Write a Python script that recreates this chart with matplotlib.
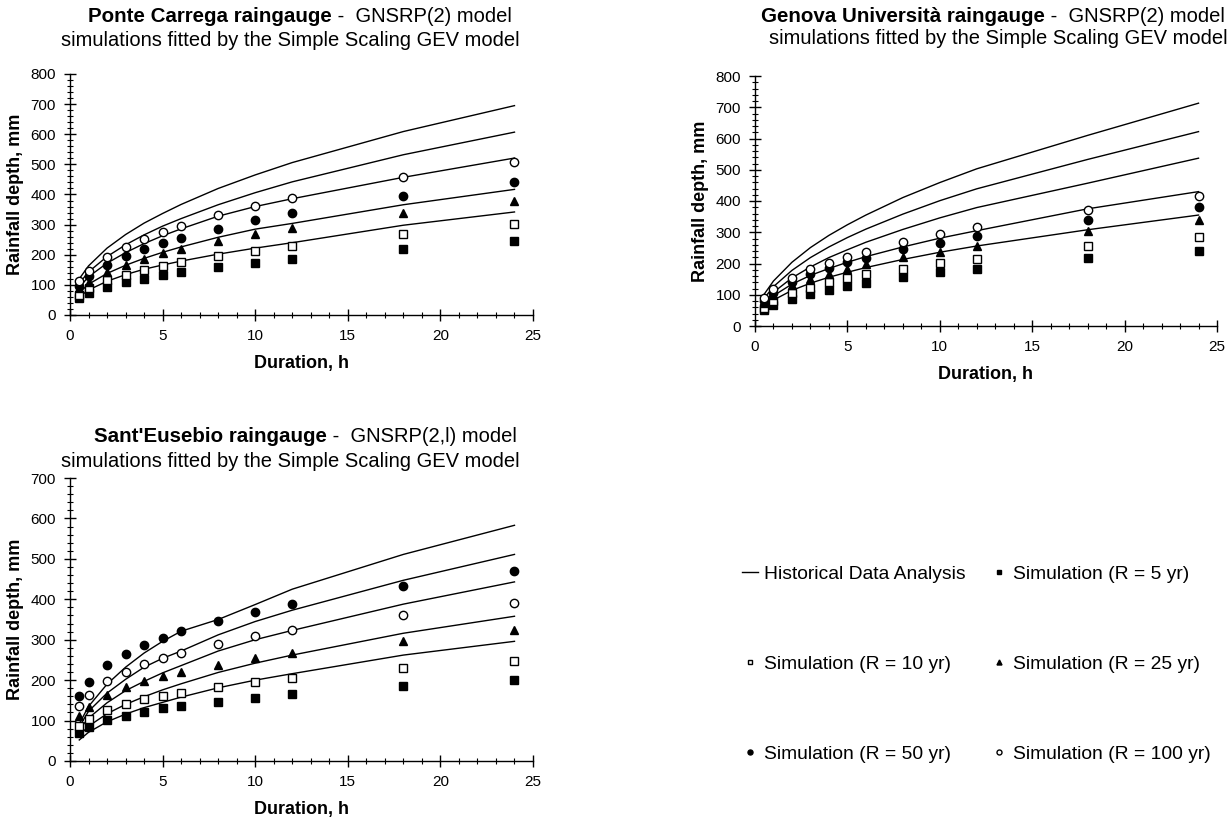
import numpy as np
import matplotlib
matplotlib.use('Agg')
import matplotlib.pyplot as plt
from matplotlib.ticker import MultipleLocator
from matplotlib.lines import Line2D

plt.rcParams['font.family'] = ['Liberation Sans', 'DejaVu Sans']

# durations (h)
durations = [0.5, 1, 2, 3, 4, 5, 6, 8, 10, 12, 18, 24]

# --- Ponte Carrega ---
pc_hist = [
    [120, 163, 222, 267, 305, 337, 367, 420, 465, 506, 609, 695],
    [105, 143, 194, 233, 266, 295, 320, 366, 406, 442, 532, 607],
    [92, 127, 172, 207, 237, 263, 286, 328, 360, 386, 457, 521],
    [74, 102, 138, 165, 188, 208, 226, 258, 285, 304, 366, 417],
    [60, 83, 112, 134, 152, 166, 179, 202, 222, 240, 298, 342],
]
pc_r5 = [55, 72, 92, 108, 121, 132, 142, 158, 174, 186, 219, 244]
pc_r10 = [65, 88, 116, 133, 150, 163, 176, 196, 213, 230, 268, 301]
pc_r25 = [88, 110, 142, 167, 187, 205, 220, 245, 270, 288, 339, 378]
pc_r50 = [96, 128, 167, 196, 219, 239, 256, 287, 314, 337, 395, 442]
pc_r100 = [112, 146, 191, 225, 252, 275, 296, 331, 362, 387, 457, 509]

# --- Genova Universita ---
gu_hist = [
    [102, 144, 204, 251, 290, 324, 355, 411, 459, 503, 610, 713],
    [89, 126, 178, 219, 253, 283, 310, 358, 401, 439, 533, 622],
    [77, 108, 154, 189, 219, 244, 268, 309, 346, 379, 457, 537],
    [70, 97, 134, 162, 184, 204, 222, 253, 281, 305, 375, 430],
    [60, 83, 114, 137, 156, 172, 187, 213, 236, 256, 308, 355],
]
gu_r5 = [50, 67, 87, 104, 115, 129, 139, 156, 172, 183, 217, 241]
gu_r10 = [58, 79, 105, 123, 140, 153, 165, 184, 202, 216, 256, 286]
gu_r25 = [75, 98, 130, 150, 166, 181, 197, 220, 237, 257, 303, 339]
gu_r50 = [81, 107, 141, 167, 186, 204, 219, 245, 267, 288, 338, 380]
gu_r100 = [89, 118, 154, 183, 203, 222, 238, 268, 294, 316, 371, 417]

# --- Sant'Eusebio ---
se_hist = [
    [92, 135, 190, 232, 267, 296, 321, 350, 387, 425, 511, 583],
    [85, 123, 168, 202, 232, 254, 272, 312, 345, 373, 447, 511],
    [78, 106, 144, 174, 197, 218, 236, 272, 300, 323, 388, 443],
    [63, 86, 117, 140, 159, 176, 191, 219, 242, 262, 316, 358],
    [52, 71, 97, 116, 132, 145, 158, 181, 200, 216, 262, 296],
]
se_r5 = [69, 83, 101, 112, 121, 130, 136, 147, 157, 165, 185, 200]
se_r10 = [87, 105, 127, 141, 153, 161, 169, 184, 195, 205, 231, 248]
se_r25 = [111, 134, 164, 183, 197, 210, 221, 238, 254, 267, 298, 325]
se_r50 = [162, 196, 237, 265, 287, 305, 321, 347, 368, 388, 433, 470]
se_r100 = [135, 163, 198, 220, 239, 254, 267, 289, 308, 324, 362, 392]

W, H = 1231, 835
fig = plt.figure(figsize=(W / 100, H / 100), dpi=100)


def px_axes(x0, x1, ytop, ybot):
    return fig.add_axes([x0 / W, 1 - ybot / H, (x1 - x0) / W, (ybot - ytop) / H])


def draw_panel(ax, hist, r5, r10, r25, r50, r100, ymax):
    for h in hist:
        ax.plot(durations, h, color='black', lw=1.0, zorder=2)
    ax.plot(durations, r5, ls='none', marker='s', ms=5.5, mfc='black', mec='black', zorder=3)
    ax.plot(durations, r10, ls='none', marker='s', ms=5.5, mfc='white', mec='black', mew=1, zorder=3)
    ax.plot(durations, r25, ls='none', marker='^', ms=6, mfc='black', mec='black', zorder=3)
    ax.plot(durations, r50, ls='none', marker='o', ms=6, mfc='black', mec='black', zorder=3)
    ax.plot(durations, r100, ls='none', marker='o', ms=6, mfc='white', mec='black', mew=1, zorder=3)
    ax.set_xlim(0, 25)
    ax.set_ylim(0, ymax)
    ax.xaxis.set_major_locator(MultipleLocator(5))
    ax.xaxis.set_minor_locator(MultipleLocator(1))
    ax.yaxis.set_major_locator(MultipleLocator(100))
    ax.yaxis.set_minor_locator(MultipleLocator(20))
    ax.tick_params(which='major', direction='inout', length=8, width=1, labelsize=11, pad=6)
    ax.tick_params(which='minor', direction='inout', length=4, width=0.8)
    for s in ['top', 'right']:
        ax.spines[s].set_visible(False)
    for s in ['left', 'bottom']:
        ax.spines[s].set_linewidth(1)
    ax.set_xlabel('Duration, h', fontsize=13, fontweight='bold', labelpad=9)
    ax.set_ylabel('Rainfall depth, mm', fontsize=13, fontweight='bold', labelpad=5)
    for art in ax.lines:
        art.set_clip_on(False)


def title(xc, y, bold, rest):
    # two-part title: bold station name then plain text, split at xc
    fig.text(xc / W, 1 - y / H, bold, ha='right', va='center', fontsize=14.8, fontweight='bold')
    fig.text(xc / W, 1 - y / H, ' -  ' + rest, ha='left', va='center', fontsize=14.5)


ax1 = px_axes(70, 533, 74, 315)
draw_panel(ax1, pc_hist, pc_r5, pc_r10, pc_r25, pc_r50, pc_r100, 800)
title(332, 17, 'Ponte Carrega raingauge', 'GNSRP(2) model')
fig.text(290 / W, 1 - 40 / H, 'simulations fitted by the Simple Scaling GEV model',
         ha='center', va='center', fontsize=14.5)

ax2 = px_axes(755, 1217, 76, 326)
draw_panel(ax2, gu_hist, gu_r5, gu_r10, gu_r25, gu_r50, gu_r100, 800)
title(1045, 17, 'Genova Università raingauge', 'GNSRP(2) model')
fig.text(998 / W, 1 - 39 / H, 'simulations fitted by the Simple Scaling GEV model',
         ha='center', va='center', fontsize=14.5)

ax3 = px_axes(70, 533, 478, 761)
draw_panel(ax3, se_hist, se_r5, se_r10, se_r25, se_r50, se_r100, 700)
title(327, 436, "Sant'Eusebio raingauge", 'GNSRP(2,l) model')
fig.text(290 / W, 1 - 461 / H, 'simulations fitted by the Simple Scaling GEV model',
         ha='center', va='center', fontsize=14.5)

# legend (column-wise order so rows read: hist/R5, R10/R25, R50/R100)
h_hist = Line2D([], [], color='black', lw=1)
h_r5 = Line2D([], [], ls='none', marker='s', ms=5.5, mfc='black', mec='black')
h_r10 = Line2D([], [], ls='none', marker='s', ms=5.5, mfc='white', mec='black')
h_r25 = Line2D([], [], ls='none', marker='^', ms=6, mfc='black', mec='black')
h_r50 = Line2D([], [], ls='none', marker='o', ms=6, mfc='black', mec='black')
h_r100 = Line2D([], [], ls='none', marker='o', ms=6, mfc='white', mec='black')
handles = [h_hist, h_r10, h_r50, h_r5, h_r25, h_r100]
labels = ['Historical Data Analysis', 'Simulation (R = 10 yr)', 'Simulation (R = 50 yr)',
          'Simulation (R = 5 yr)', 'Simulation (R = 25 yr)', 'Simulation (R = 100 yr)']
fig.legend(handles, labels, loc='upper left', bbox_to_anchor=(725 / W, 1 - 548 / H),
           ncol=2, frameon=False, fontsize=13.9, markerscale=0.6,
           handlelength=0.8, handletextpad=0.3, columnspacing=1.35, labelspacing=3.75)

fig.savefig('out.png', dpi=100)
